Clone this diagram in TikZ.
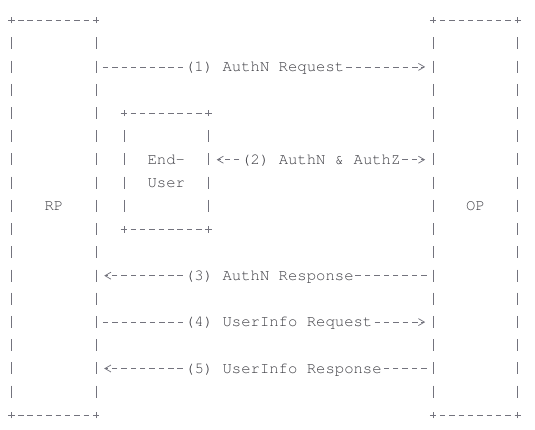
\documentclass[tikz,border=0pt]{standalone}
\usepackage[T1]{fontenc}
\usepackage{courier}
\usetikzlibrary{arrows.meta}
\definecolor{ink}{RGB}{115,115,125}
\definecolor{txtgray}{RGB}{60,60,66}
\newcommand\asciifont{\fontfamily{pcr}\fontsize{15.6pt}{23.2pt}\selectfont}
\newcommand\asciibox[1]{%
  \draw[hbar] (#1.north west) -- (#1.north east);
  \draw[hbar] (#1.south west) -- (#1.south east);
  \draw[vbar] (#1.north west) -- (#1.south west);
  \draw[vbar] (#1.north east) -- (#1.south east);
  \foreach \c in {north west,north east,south west,south east}
    \draw[glyph] ([xshift=-3.2pt]#1.\c) -- ([xshift=3.2pt]#1.\c)
                 ([yshift=-3.2pt]#1.\c) -- ([yshift=3.2pt]#1.\c);
}

\begin{document}
\begin{tikzpicture}[x=1pt,y=-1pt,
  txt/.style={font=\asciifont,text=txtgray},
  box/.style={txt,inner sep=0pt,minimum width=84.33pt,align=center},
  glyph/.style={draw=ink,line width=0.75pt},
  hbar/.style={glyph,dash pattern=on 5.5pt off 3.87pt,dash phase=2.75pt},
  vbar/.style={glyph,dash pattern=on 12pt off 11.2pt,dash phase=17.6pt,shorten <=11.6pt,shorten >=11.6pt},
  lbl/.style={txt,fill=white,inner sep=0pt,outer sep=0pt,text height=11.5pt,text depth=2.1pt},
  flow/.style={glyph,dash pattern=on 5.5pt off 3.87pt,dash phase=7.435pt,shorten >=3.5pt,
    -{Straight Barb[length=6pt,width=7pt,sep=4.5pt]}},
  oneway/.style={flow,shorten <=4.685pt}]
\useasboundingbox (0,0) rectangle (535,430);

\node[box,minimum height=394.4pt,label={[txt,yshift=11.6pt]center:RP}] (rp) at (53.87,217.7) {};
\node[box,minimum height=394.4pt,label={[txt,yshift=11.6pt]center:OP}] (op) at (475.5,217.7) {};
\node[box,minimum height=116pt] (eu) at (166.3,171.3) {End-\\User};
\asciibox{rp}
\asciibox{op}
\asciibox{eu}

\foreach \r in {2,6,11,13,15}
  \coordinate (r\r) at (0,20.5+23.2*\r);

\draw[oneway] (rp.east |- r2) -- (op.west |- r2) node[lbl,pos=.5]{(1) AuthN Request};
\path (eu.east |- r6) -- (op.west |- r6) node[lbl,pos=.5] (authz) {(2) AuthN \& AuthZ};
\draw[flow] (authz) -- (authz -| eu.east);
\draw[flow] (authz) -- (authz -| op.west);
\draw[oneway] (op.west |- r11) -- (rp.east |- r11) node[lbl,pos=.4861]{(3) AuthN Response};
\draw[oneway] (rp.east |- r13) -- (op.west |- r13) node[lbl,pos=.5417]{(4) UserInfo Request};
\draw[oneway] (op.west |- r15) -- (rp.east |- r15) node[lbl,pos=.4444]{(5) UserInfo Response};
\end{tikzpicture}
\end{document}
